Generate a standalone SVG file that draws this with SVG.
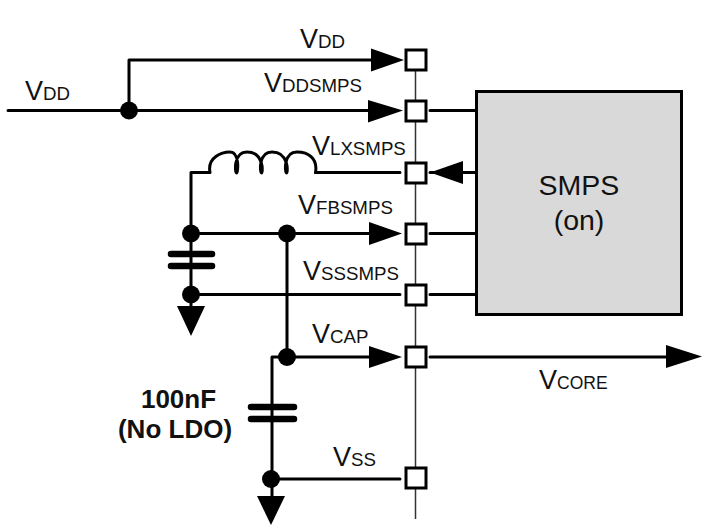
<svg xmlns="http://www.w3.org/2000/svg" width="726" height="532" viewBox="0 0 726 532">
<style>
text{font-family:"Liberation Sans",Arial,sans-serif;fill:#111}
.l{font-size:27px}
.s{font-size:18.7px}
.w{fill:none;stroke:#000;stroke-width:3;stroke-linecap:round;stroke-linejoin:round}
.p{fill:#fff;stroke:#000;stroke-width:3}
.c{fill:none;stroke:#000;stroke-width:6.5;stroke-linecap:round}
</style>
<rect width="726" height="532" fill="#fff"/>
<g id="bus"><line x1="415.500" y1="60" x2="415.500" y2="519" stroke="#333" stroke-width="1.5"/></g>
<g id="connectors">
<path class="w" d="M8 110.500H396M129 110.500V60H395M430 110.500H476M476 172.500H430M191 172.500H209.500M315.500 172.500H400M191 172.500V295M191 233.500H380M430 233.500H476M191 294.500H400M430 294.500H476M287 233.500V357M272 357H380M272 357V479M272 479H400M430 357H680M191 295V310M272 479V497"/>
<path class="w" d="M210 172.500C207 157 222 152 230 152C240 152 238 173 236.500 173C235 173 233 152 247 152C264 152 263 173 261.500 173C260 173 258 152 272 152C289 152 288 173 286.500 173C285 173 283 152 297 152C308 152 318 158 315.500 172.500"/>
<polygon points="404,60 371,48.500 371,71.500"/><polygon points="403,110.500 368,100 368,122.500"/><polygon points="430,172.500 463,161 463,184"/><polygon points="402,233.500 369,222 369,245"/><polygon points="402,357 369,346 369,368"/><polygon points="702,356.500 666,345 666,368"/>
<polygon points="177,306 205,306 191,336"/><polygon points="257,496 285,496 271,525"/>
<line class="c" x1="171" y1="254" x2="212" y2="254"/><line class="c" x1="171" y1="266" x2="212" y2="266"/>
<line class="c" x1="251" y1="407" x2="294" y2="407"/><line class="c" x1="251" y1="419" x2="294" y2="419"/>
<circle cx="129" cy="110.500" r="9"/><circle cx="191" cy="233.500" r="9"/><circle cx="287" cy="233.500" r="9"/><circle cx="191" cy="294.500" r="9"/><circle cx="287" cy="357" r="9"/><circle cx="271" cy="479" r="9"/>
</g>
<g id="pin-vdd"><rect class="p" x="406" y="50" width="20" height="20"/></g>
<g id="pin-vddsmps"><rect class="p" x="406" y="101" width="20" height="20"/></g>
<g id="pin-vlxsmps"><rect class="p" x="406" y="163" width="20" height="20"/></g>
<g id="pin-vfbsmps"><rect class="p" x="406" y="224" width="20" height="20"/></g>
<g id="pin-vsssmps"><rect class="p" x="406" y="285" width="20" height="20"/></g>
<g id="pin-vcap"><rect class="p" x="406" y="347" width="20" height="20"/></g>
<g id="pin-vss"><rect class="p" x="406" y="468" width="20" height="20"/></g>
<g id="smps"><rect x="476.500" y="91.500" width="205" height="223" fill="#d9d9d9" stroke="#000" stroke-width="3"/>
<text x="579" y="195" font-size="28.500" text-anchor="middle">SMPS</text><text x="579" y="230" font-size="28.500" text-anchor="middle">(on)</text></g>
<g id="labels">
<text class="l" x="25" y="100">V<tspan class="s">DD</tspan></text>
<text class="l" x="300" y="48">V<tspan class="s">DD</tspan></text>
<text class="l" x="264" y="92">V<tspan class="s">DDSMPS</tspan></text>
<text class="l" x="312" y="155">V<tspan class="s">LXSMPS</tspan></text>
<text class="l" x="298" y="214">V<tspan class="s">FBSMPS</tspan></text>
<text class="l" x="303" y="280">V<tspan class="s">SSSMPS</tspan></text>
<text class="l" x="312" y="343">V<tspan class="s">CAP</tspan></text>
<text class="l" x="333" y="466">V<tspan class="s">SS</tspan></text>
<text class="l" x="539" y="389">V<tspan font-size="17.500">CORE</tspan></text>
<text x="178.500" y="408" font-size="26" font-weight="bold" text-anchor="middle">100nF</text>
<text x="175" y="438" font-size="26" font-weight="bold" text-anchor="middle">(No LDO)</text>
</g>
</svg>
